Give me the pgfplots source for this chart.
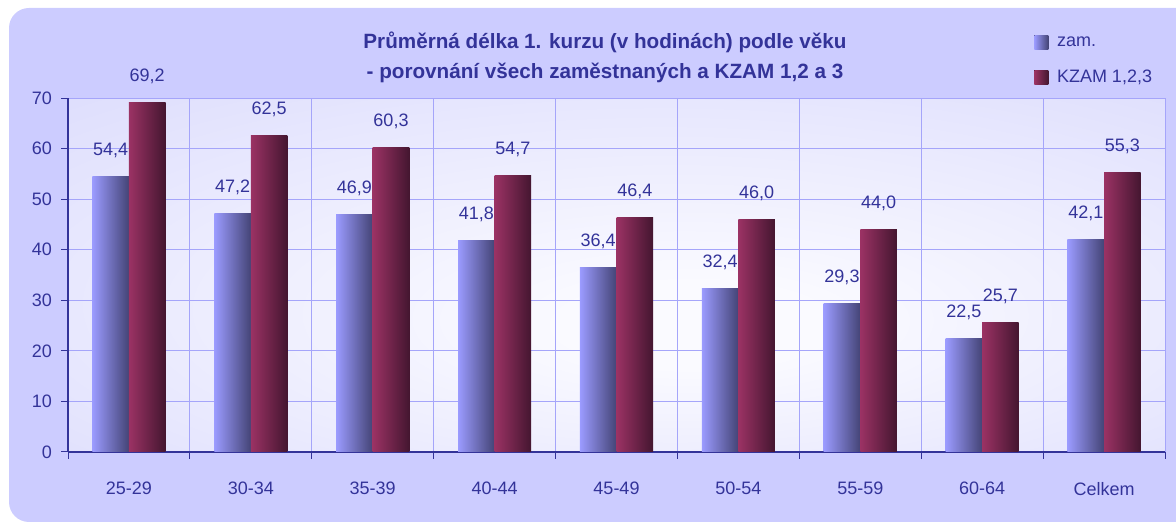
\documentclass[border=0pt]{standalone}
\usepackage{fontspec}
\setmainfont{Liberation Sans}
\usepackage{pgfplots}
\usepackage{pgfplotstable}
\pgfplotsset{compat=1.18}
\definecolor{txt}{RGB}{51,51,153}
\definecolor{bgout}{RGB}{204,204,255}
\definecolor{bgin}{RGB}{250,250,255}
\definecolor{plotout}{RGB}{208,208,252}
\definecolor{gridc}{RGB}{165,165,250}
\definecolor{zamL}{RGB}{155,155,255}
\definecolor{zamR}{RGB}{68,68,118}
\definecolor{kzL}{RGB}{155,50,100}
\definecolor{kzR}{RGB}{68,22,48}
\pgfdeclareradialshading{plotbg}{\pgfpoint{4bp}{-8bp}}{color(0bp)=(bgin); color(6bp)=(bgin); color(55bp)=(plotout)}

\pgfplotstableread{
x y
0 54.4
1 47.2
2 46.9
3 41.8
4 36.4
5 32.4
6 29.3
7 22.5
8 42.1
}\zamdata
\pgfplotstableread{
x y
0 69.2
1 62.5
2 60.3
3 54.7
4 46.4
5 46.0
6 44.0
7 25.7
8 55.3
}\kzamdata

\begin{document}
\begin{tikzpicture}[x=1pt,y=1pt]
\clip (0,0) rectangle (882,392.25);
\fill[bgout, rounded corners=15pt] (6.75,0.75) rectangle (900,386.25);
\begin{axis}[
  at={(51pt,53.25pt)}, anchor=south west,
  scale only axis, width=822.75pt, height=265.5pt,
  xmin=-0.5, xmax=8.5, ymin=0, ymax=70,
  ybar, bar width=0.3,
  axis background/.style={shading=plotbg},
  ytick={0,10,...,70},
  yticklabel style={xshift=-3.5pt},
  xtick={-0.5,0.5,...,8.5}, xticklabels={},
  extra x ticks={0,1,...,8},
  extra x tick labels={25-29,30-34,35-39,40-44,45-49,50-54,55-59,60-64,Celkem},
  extra x tick style={grid=none, major tick length=0pt, xticklabel style={yshift=-19pt}},
  grid=major, grid style={gridc, line width=0.75pt},
  axis x line*=bottom, axis y line*=left,
  axis line style={txt, line width=1pt, -},
  tick align=outside, major tick length=5pt,
  tick style={txt, line width=0.75pt},
  ticklabel style={font=\fontsize{13.5}{16}\selectfont, text=txt},
  /pgf/number format/assume math mode=true,
  nodes near coords={\pgfmathprintnumber[fixed,fixed zerofill,precision=1,use comma]{\pgfplotspointmeta}},
  nodes near coords style={font=\fontsize{13.5}{16}\selectfont, text=txt, yshift=10.5pt},
  legend style={at={(axis description cs:0.877,1.19)}, anchor=north west, draw=none, fill=none,
    font=\fontsize{13.5}{16}\selectfont, text=txt, row sep=12.5pt},
  legend cell align=left,
  unbounded coords=discard,
]
\pgfplotsinvokeforeach{0,...,8}{
\addplot[draw=none, left color=zamL, right color=zamR, bar shift=-0.15, forget plot,
  restrict x to domain=#1:#1.4]
  table[x=x,y=y] {\zamdata};
\addplot[draw=none, left color=kzL, right color=kzR, bar shift=0.15, forget plot,
  restrict x to domain=#1:#1.4]
  table[x=x,y=y] {\kzamdata};
}
\addlegendimage{legend image code/.code={\fill[draw=none, left color=zamL, right color=zamR] (0pt,-5.25pt) rectangle (10.5pt,5.25pt); \path[draw=none, fill=none, shade=none] (0pt,0pt) rectangle (15pt,0.1pt);}}
\addlegendentry{zam.}
\addlegendimage{legend image code/.code={\fill[draw=none, left color=kzL, right color=kzR] (0pt,-5.25pt) rectangle (10.5pt,5.25pt); \path[draw=none, fill=none, shade=none] (0pt,0pt) rectangle (15pt,0.1pt);}}
\addlegendentry{KZAM 1,2,3}
\end{axis}
\node[font=\bfseries\fontsize{15.5}{22.5}\selectfont, text=txt, align=center] at (453.75,349.5)
  {Průměrná délka 1. kurzu (v hodinách) podle věku\\- porovnání všech zaměstnaných a KZAM 1,2 a 3};
\end{tikzpicture}
\end{document}
